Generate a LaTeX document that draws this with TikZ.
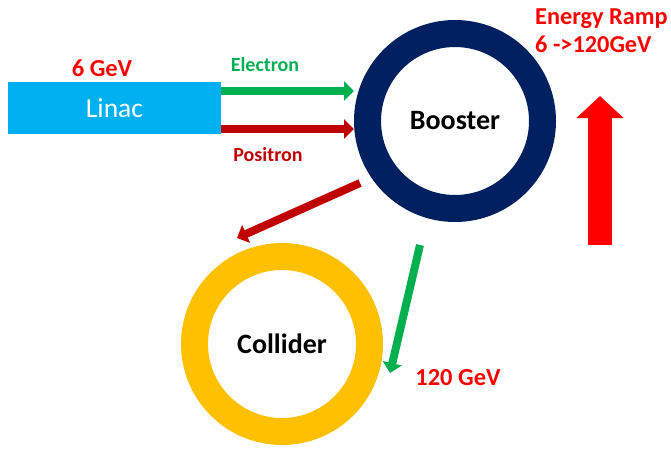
\documentclass[tikz,border=0pt]{standalone}
\usepackage{fontspec}
\setmainfont{Carlito}
\usetikzlibrary{positioning,arrows.meta}
\definecolor{linacblue}{HTML}{00B0F0}
\definecolor{boostnavy}{HTML}{002060}
\definecolor{collgold}{HTML}{FFC000}
\definecolor{elecgreen}{HTML}{00B050}
\definecolor{posired}{HTML}{C00000}
\definecolor{rampred}{HTML}{FF0000}
\begin{document}
\begin{tikzpicture}[
        x=1pt, y=-1pt,
        ring/.style={circle, line width=27pt, minimum size=175pt, inner sep=0pt, font=\bfseries\fontsize{28}{32}\selectfont},
        label/.style={font=\bfseries\fontsize{#1}{#1}\selectfont, inner sep=0pt},
        beam/.style={line width=8pt, -{Triangle[width=19pt, length=10pt]}, draw=#1}
    ]
    \useasboundingbox (0,0) rectangle (671,453);

    % Linac and its beams
    \node[fill=linacblue, text=white, minimum width=213pt, minimum height=52pt, inner sep=0pt,
          font=\fontsize{27.5}{30}\selectfont] (linac) at (114.5,108) {Linac};
    \node[label=24.5, text=rampred] (linacE) at (102,68) {6 GeV};
    \node[label=20, text=elecgreen] (elec) at (265,65) {Electron};
    \node[label=20, text=posired] (posi) at (268,155) {Positron};

    % Rings
    \node[ring, draw=boostnavy] (booster) at (455,121) {Booster};
    \node[ring, draw=collgold] (collider) at (282,344) {Collider};

    \draw[beam=elecgreen] ([yshift=17pt]linac.east) -- ([yshift=17pt]linac.east -| booster.west);
    \draw[beam=posired] ([yshift=-21pt]linac.east) -- ([yshift=-21pt]linac.east -| booster.west);

    % Extraction
    \coordinate (posiout) at (360,183);
    \coordinate (posiin) at (237,238);
    \coordinate (elecout) at (420,245);
    \coordinate (elecin) at (390,373);
    \draw[beam=posired] (posiout) -- (posiin);
    \draw[beam=elecgreen] (elecout) -- (elecin);
    \node[label=24.5, text=rampred] (collE) at (458,378) {120 GeV};

    % Energy ramp
    \node[label=24.3, text=rampred, align=left, anchor=north west,
          font=\bfseries\fontsize{24.3}{28}\selectfont] (ramp) at (535,9) {Energy Ramp\\6 ->120GeV};
    \coordinate (rampbot) at (600,245);
    \coordinate (ramptop) at (600,96);
    \draw[line width=24pt, rampred, -{Triangle[width=46pt, length=22pt]}] (rampbot) -- (ramptop);
\end{tikzpicture}
\end{document}
